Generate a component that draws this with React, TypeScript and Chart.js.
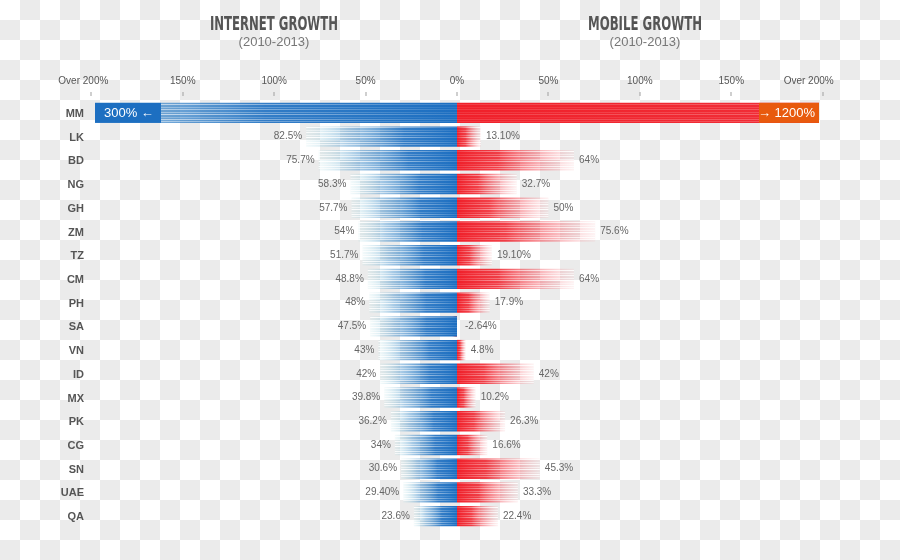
import React, { useEffect, useRef } from "react";
import { Chart, registerables } from "chart.js";

Chart.register(...registerables);

// ---------- data ----------
const countries = ["MM", "LK", "BD", "NG", "GH", "ZM", "TZ", "CM", "PH", "SA", "VN", "ID", "MX", "PK", "CG", "SN", "UAE", "QA"];
const internetGrowth = [300, 82.5, 75.7, 58.3, 57.7, 54, 51.7, 48.8, 48, 47.5, 43, 42, 39.8, 36.2, 34, 30.6, 29.4, 23.6];
const internetLabels = ["300%", "82.5%", "75.7%", "58.3%", "57.7%", "54%", "51.7%", "48.8%", "48%", "47.5%", "43%", "42%", "39.8%", "36.2%", "34%", "30.6%", "29.40%", "23.6%"];
const mobileGrowth = [1200, 13.1, 64, 32.7, 50, 75.6, 19.1, 64, 17.9, -2.64, 4.8, 42, 10.2, 26.3, 16.6, 45.3, 33.3, 22.4];
const mobileLabels = ["1200%", "13.10%", "64%", "32.7%", "50%", "75.6%", "19.10%", "64%", "17.9%", "-2.64%", "4.8%", "42%", "10.2%", "26.3%", "16.6%", "45.3%", "33.3%", "22.4%"];
const axisTickValues = [-200, -150, -100, -50, 0, 50, 100, 150, 200];
const axisTickLabels = ["Over 200%", "150%", "100%", "50%", "0%", "50%", "100%", "150%", "Over 200%"];
const titles = ["INTERNET GROWTH", "MOBILE GROWTH"];
const subtitles = ["(2010-2013)", "(2010-2013)"];
const AXIS_MIN = -198;
const AXIS_MAX = 198;

// ---------- style ----------
const BLUE = "#1d6fc1";
const RED = "#f0202a";
const ORANGE = "#e85a0e";
const SANS = "'Liberation Sans', Arial, Helvetica, sans-serif";
const NARROW = "'Liberation Sans Narrow', 'DejaVu Sans Condensed', 'Arial Narrow', sans-serif";
const STRIPES = [0, 0.9, 0, 0, 0.5, 0, 0.8, 0, 0, 0.6, 0, 0.95, 0, 0, 0.4, 0, 0.85, 0, 0.7];

function makeFill(kind: "blue" | "red") {
  const stops =
    kind === "blue"
      ? ["rgba(29,111,193,1)", "rgba(29,111,193,0.9)", "rgba(80,150,205,0.5)", "rgba(160,215,220,0.12)"]
      : ["rgba(240,32,42,1)", "rgba(240,32,42,0.86)", "rgba(243,95,105,0.45)", "rgba(246,160,165,0.12)"];
  const solid = kind === "blue" ? BLUE : RED;
  return (c: any) => {
    if (c.type !== "data") return solid;
    const chart = c.chart;
    if (!chart.chartArea) return solid;
    const xs = chart.scales.x;
    const x0 = xs.getPixelForValue(0);
    const x1 = xs.getPixelForValue(c.raw);
    if (Math.abs(x1 - x0) < 2) return solid;
    const g = chart.ctx.createLinearGradient(x0, 0, x1, 0);
    g.addColorStop(0, stops[0]);
    g.addColorStop(0.35, stops[1]);
    g.addColorStop(0.72, stops[2]);
    g.addColorStop(1, stops[3]);
    return g;
  };
}

function fitText(ctx: CanvasRenderingContext2D, text: string, cx: number, baseY: number, targetW: number) {
  const w = ctx.measureText(text).width;
  const sx = targetW / w;
  ctx.save();
  ctx.translate(cx, baseY);
  ctx.scale(sx, 1);
  ctx.textAlign = "center";
  ctx.textBaseline = "alphabetic";
  ctx.fillText(text, 0, 0);
  ctx.restore();
}

const decorPlugin = {
  id: "decor",
  beforeDraw(chart: any) {
    const { ctx, width, height } = chart;
    ctx.save();
    ctx.fillStyle = "#ffffff";
    ctx.fillRect(0, 0, width, height);
    ctx.fillStyle = "#ebebeb";
    for (let y = 0; y < height; y += 20) {
      for (let x = 0; x < width; x += 20) {
        if (((x / 20) + (y / 20)) % 2 === 1) ctx.fillRect(x, y, 20, 20);
      }
    }
    ctx.restore();
  },
  afterDatasetsDraw(chart: any) {
    const { ctx, chartArea } = chart;
    const xs = chart.scales.x;
    const ys = chart.scales.y;
    const x0 = xs.getPixelForValue(0);

    // streak texture over bars (only bars on their own side of the axis)
    ctx.save();
    ctx.beginPath();
    ctx.rect(chartArea.left, chartArea.top, chartArea.right - chartArea.left, chartArea.bottom - chartArea.top);
    ctx.clip();
    chart.data.datasets.forEach((_: any, di: number) => {
      const meta = chart.getDatasetMeta(di);
      meta.data.forEach((el: any) => {
        const p = el.getProps(["x", "y", "base", "height"], true);
        if (di === 0 && p.x > p.base) return;
        if (di === 1 && p.x < p.base) return;
        const l = Math.max(chartArea.left, Math.min(p.x, p.base));
        const r = Math.min(chartArea.right, Math.max(p.x, p.base));
        if (r - l < 2) return;
        const top = Math.round(p.y - p.height / 2);
        const g = ctx.createLinearGradient(p.base, 0, p.x, 0);
        g.addColorStop(0, "rgba(255,255,255,0.15)");
        g.addColorStop(0.5, "rgba(255,255,255,0.6)");
        g.addColorStop(1, "rgba(255,255,255,1)");
        for (let row = 0; row < Math.round(p.height); row++) {
          const a = STRIPES[row % STRIPES.length];
          if (!a) continue;
          ctx.globalAlpha = a;
          ctx.fillStyle = g;
          ctx.fillRect(l, top + row, r - l, 1);
        }
      });
    });
    ctx.restore();

    ctx.save();
    // value labels & overflow boxes
    countries.forEach((_, i) => {
      const y = ys.getPixelForValue(i);
      // internet (left)
      const iv = internetGrowth[i];
      if (-iv < AXIS_MIN) {
        const bx = chartArea.left;
        ctx.fillStyle = BLUE;
        ctx.fillRect(bx, y - 10, 66, 20);
        ctx.fillStyle = "#ffffff";
        ctx.font = `13px ${SANS}`;
        ctx.textAlign = "left";
        ctx.textBaseline = "middle";
        ctx.fillText(internetLabels[i] + " \u2190", bx + 9, y + 0.5);
      } else {
        ctx.fillStyle = "#666666";
        ctx.font = `10px ${SANS}`;
        ctx.textAlign = "right";
        ctx.textBaseline = "middle";
        ctx.fillText(internetLabels[i], xs.getPixelForValue(-iv) - 4, y);
      }
      // mobile (right)
      const mv = mobileGrowth[i];
      if (mv > AXIS_MAX) {
        const bx = chartArea.right - 60;
        ctx.fillStyle = ORANGE;
        ctx.fillRect(bx, y - 10, 60, 20);
        ctx.fillStyle = "#ffffff";
        ctx.font = `13px ${SANS}`;
        ctx.textAlign = "right";
        ctx.textBaseline = "middle";
        ctx.fillText("\u2192 " + mobileLabels[i], chartArea.right - 4, y + 0.5);
      } else {
        ctx.fillStyle = "#666666";
        ctx.font = `10px ${SANS}`;
        ctx.textAlign = "left";
        ctx.textBaseline = "middle";
        const end = Math.max(xs.getPixelForValue(mv), x0);
        ctx.fillText(mobileLabels[i], end + (mv < 0 ? 8 : 5), y);
      }
      // category label
      ctx.fillStyle = "#555555";
      ctx.font = `bold 11px ${SANS}`;
      ctx.textAlign = "right";
      ctx.textBaseline = "middle";
      ctx.fillText(countries[i], 84, y + 1);
    });

    // top axis
    axisTickValues.forEach((v, k) => {
      const px = xs.getPixelForValue(v);
      ctx.fillStyle = "#a0a0a0";
      ctx.fillRect(Math.round(px) - 0.5, 92, 1, 4);
      let lx = px;
      if (k === 0) lx = px - 8;
      if (k === axisTickValues.length - 1) lx = px - 14;
      ctx.fillStyle = "#555555";
      ctx.font = `10px ${SANS}`;
      ctx.textAlign = "center";
      ctx.textBaseline = "middle";
      ctx.fillText(axisTickLabels[k], lx, 81);
    });

    // titles
    const centers = [274, 645];
    const widths = [128, 114];
    titles.forEach((t, k) => {
      ctx.fillStyle = "#555555";
      ctx.font = `bold 20px ${NARROW}`;
      fitText(ctx, t, centers[k], 29.5, widths[k]);
      ctx.fillStyle = "#777777";
      ctx.font = `13px ${SANS}`;
      ctx.textAlign = "center";
      ctx.textBaseline = "middle";
      ctx.fillText(subtitles[k], centers[k], 42);
    });
    ctx.restore();
  },
};

export default function App() {
  const ref = useRef<HTMLCanvasElement | null>(null);
  useEffect(() => {
    if (!ref.current) return;
    const chart = new Chart(ref.current, {
      type: "bar",
      data: {
        labels: countries,
        datasets: [
          {
            label: "Internet growth",
            data: internetGrowth.map((v) => -v),
            backgroundColor: makeFill("blue") as any,
            borderWidth: 0,
            order: 0,
            grouped: false,
            barPercentage: 0.86,
            categoryPercentage: 1,
          } as any,
          {
            label: "Mobile growth",
            data: mobileGrowth,
            backgroundColor: makeFill("red") as any,
            borderWidth: 0,
            order: 1,
            grouped: false,
            barPercentage: 0.86,
            categoryPercentage: 1,
          } as any,
        ],
      },
      options: {
        indexAxis: "y",
        animation: false,
        responsive: false,
        events: [],
        layout: { padding: { left: 95, right: 81, top: 101, bottom: 32 } },
        scales: {
          x: { display: false, min: AXIS_MIN, max: AXIS_MAX },
          y: { display: false },
        },
        plugins: { legend: { display: false }, tooltip: { enabled: false } },
      },
      plugins: [decorPlugin],
    });
    return () => chart.destroy();
  }, []);
  return (
    <div style={{ position: "absolute", left: 0, top: 0, width: 900, height: 560 }}>
      <canvas ref={ref} width={900} height={560} style={{ display: "block", width: 900, height: 560 }} />
    </div>
  );
}
